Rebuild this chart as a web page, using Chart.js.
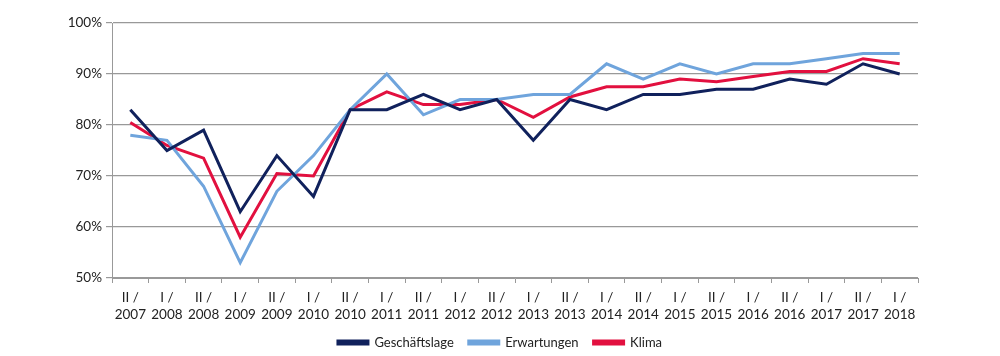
<!DOCTYPE html>
<html><head><meta charset="utf-8">
<script src="https://cdn.jsdelivr.net/npm/chart.js@4/dist/chart.umd.min.js"></script>
<style>html,body{margin:0;padding:0;background:#fff}#wrap{width:1000px;height:356px}</style>
</head><body><div id="wrap"><canvas id="c" width="1000" height="356"></canvas></div>
<script>
const categories = [["II /","2007"],["I /","2008"],["II /","2008"],["I /","2009"],["II /","2009"],["I /","2010"],["II /","2010"],["I /","2011"],["II /","2011"],["I /","2012"],["II /","2012"],["I /","2013"],["II /","2013"],["I /","2014"],["II /","2014"],["I /","2015"],["II /","2015"],["I /","2016"],["II /","2016"],["I /","2017"],["II /","2017"],["I /","2018"]];
const geschaeftslage = [83,75,79,63,74,66,83,83,86,83,85,77,85,83,86,86,87,87,89,88,92,90];
const erwartungen = [78,77,68,53,67,74,83,90,82,85,85,86,86,92,89,92,90,92,92,93,94,94];
const klima = [80.5,76,73.5,58,70.5,70,83,86.5,84,84,85,81.5,85.5,87.5,87.5,89,88.5,89.5,90.5,90.5,93,92];
const yTicks = [50,60,70,80,90,100];

const font = {family:"Lato, 'Open Sans', sans-serif", size:13.5};
const legendFont = {family:"Lato, 'Open Sans', sans-serif", size:13};
function ds(label, data, color){
  return {label, data, borderColor:color, backgroundColor:color, borderWidth:3, pointRadius:0, tension:0, fill:false, borderJoinStyle:'miter'};
}
new Chart(document.getElementById('c'), {
  type:'line',
  data:{labels:categories, datasets:[
    ds('Geschäftslage', geschaeftslage, '#10215c'),
    ds('Erwartungen', erwartungen, '#6fa4dc'),
    ds('Klima', klima, '#e2103f')
  ]},
  options:{
    responsive:false, animation:false,
    layout:{padding:{left:0,right:0,top:23,bottom:-3}},
    plugins:{
      legend:{position:'bottom', labels:{font:legendFont, color:'#222', boxWidth:30, boxHeight:3, padding:15}},
      tooltip:{enabled:false}
    },
    scales:{
      x:{offset:true,
        grid:{offset:true, drawOnChartArea:false, color:'#999', tickLength:5, lineWidth:1},
        border:{color:'#999'},
        ticks:{font, color:'#222', maxRotation:0, autoSkip:false, padding:7},
        afterFit:s=>{s.height=43;}
      },
      y:{min:50,max:100,
        afterBuildTicks:s=>{s.ticks=yTicks.map(v=>({value:v}));},
        grid:{color:'#999', tickLength:6, lineWidth:1.2},
        border:{color:'#999'},
        ticks:{font, color:'#222', padding:4, callback:v=>v+'%'},
        afterFit:s=>{s.width=112;}
      },
      yRight:{type:'linear', position:'right', min:0, max:1,
        grid:{display:false}, border:{display:false}, ticks:{display:false},
        afterFit:s=>{s.width=82;}
      }
    }
  }
});
</script></body></html>
